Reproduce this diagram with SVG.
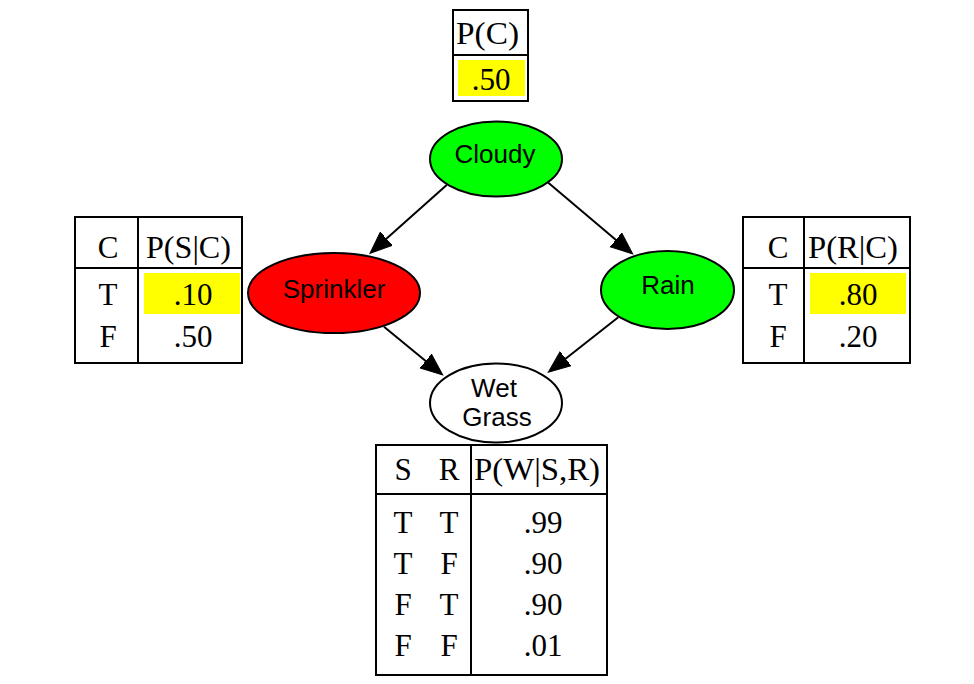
<svg xmlns="http://www.w3.org/2000/svg" width="974" height="684" viewBox="0 0 974 684">
<style>
.tb{fill:none;stroke:#000;stroke-width:2}
.hl{fill:#ffff00;stroke:none}
.t{font-family:"Liberation Serif","Times New Roman",serif;font-size:31px;fill:#000}
.c{text-anchor:middle}
.n{stroke:#000;stroke-width:2}
.nl{font-family:"Liberation Sans",Arial,sans-serif;font-size:26px;fill:#000;text-anchor:middle}
.e{stroke:#000;stroke-width:2;fill:none;marker-end:url(#ah)}
</style>
<defs>
<marker id="ah" markerUnits="userSpaceOnUse" markerWidth="24" markerHeight="20" refX="11" refY="9.5" orient="auto" viewBox="0 0 24 20">
<path d="M0,0.5 L22,9.5 L0,18.5 z" fill="#000" stroke="#000" stroke-width="1"/>
</marker>
</defs>
<rect width="974" height="684" fill="#fff"/>
<g id="table-C">
<rect class="tb" x="453" y="10" width="75" height="91"/>
<line class="tb" x1="453" y1="55" x2="528" y2="55"/>
<rect class="hl" x="458" y="60" width="67" height="36"/>
<text class="t" x="456" y="44" textLength="63" lengthAdjust="spacingAndGlyphs">P(C)</text>
<text class="t c" x="491" y="90">.50</text>
</g>
<g id="table-S">
<rect class="tb" x="75" y="217" width="167" height="146"/>
<line class="tb" x1="138" y1="217" x2="138" y2="363"/>
<line class="tb" x1="75" y1="268" x2="242" y2="268"/>
<rect class="hl" x="144" y="273" width="96" height="41"/>
<text class="t c" x="108" y="258">C</text>
<text class="t" x="146" y="258" textLength="85" lengthAdjust="spacingAndGlyphs">P(S|C)</text>
<text class="t c" x="108" y="305">T</text>
<text class="t c" x="193" y="305">.10</text>
<text class="t c" x="108" y="347">F</text>
<text class="t c" x="193" y="347">.50</text>
</g>
<g id="table-R">
<rect class="tb" x="743" y="217" width="167" height="146"/>
<line class="tb" x1="804" y1="217" x2="804" y2="363"/>
<line class="tb" x1="743" y1="268" x2="910" y2="268"/>
<rect class="hl" x="810" y="273" width="96" height="41"/>
<text class="t c" x="778" y="258">C</text>
<text class="t" x="808" y="258" textLength="90" lengthAdjust="spacingAndGlyphs">P(R|C)</text>
<text class="t c" x="778" y="305">T</text>
<text class="t c" x="858" y="305">.80</text>
<text class="t c" x="778" y="347">F</text>
<text class="t c" x="858" y="347">.20</text>
</g>
<g id="table-W">
<rect class="tb" x="376" y="445" width="231" height="230"/>
<line class="tb" x1="471" y1="445" x2="471" y2="675"/>
<line class="tb" x1="376" y1="494" x2="607" y2="494"/>
<text class="t c" x="403" y="480">S</text>
<text class="t c" x="449" y="480">R</text>
<text class="t" x="474" y="480" textLength="126" lengthAdjust="spacingAndGlyphs">P(W|S,R)</text>
<text class="t c" x="403" y="533">T</text><text class="t c" x="449" y="533">T</text><text class="t c" x="543" y="533">.99</text>
<text class="t c" x="403" y="574">T</text><text class="t c" x="449" y="574">F</text><text class="t c" x="543" y="574">.90</text>
<text class="t c" x="403" y="615">F</text><text class="t c" x="449" y="615">T</text><text class="t c" x="543" y="615">.90</text>
<text class="t c" x="403" y="656">F</text><text class="t c" x="449" y="656">F</text><text class="t c" x="543" y="656">.01</text>
</g>
<g id="edges">
<line class="e" x1="446.7" y1="185" x2="378.2" y2="246"/>
<line class="e" x1="548.3" y1="182.7" x2="624.3" y2="246.9"/>
<line class="e" x1="384" y1="326.7" x2="434.2" y2="368"/>
<line class="e" x1="618.3" y1="317.3" x2="557" y2="365.5"/>
</g>
<g id="node-cloudy">
<ellipse class="n" cx="496" cy="159" rx="66" ry="37.5" fill="#00ff00"/>
<text class="nl" x="495" y="163">Cloudy</text>
</g>
<g id="node-sprinkler">
<ellipse class="n" cx="334" cy="293" rx="86" ry="40" fill="#ff0000"/>
<text class="nl" x="334" y="298">Sprinkler</text>
</g>
<g id="node-rain">
<ellipse class="n" cx="667.5" cy="290" rx="66.5" ry="39" fill="#00ff00"/>
<text class="nl" x="668" y="294">Rain</text>
</g>
<g id="node-wetgrass">
<ellipse class="n" cx="496" cy="403" rx="66" ry="39.5" fill="#ffffff"/>
<text class="nl" x="494" y="397">Wet</text>
<text class="nl" x="497" y="426">Grass</text>
</g>
</svg>
